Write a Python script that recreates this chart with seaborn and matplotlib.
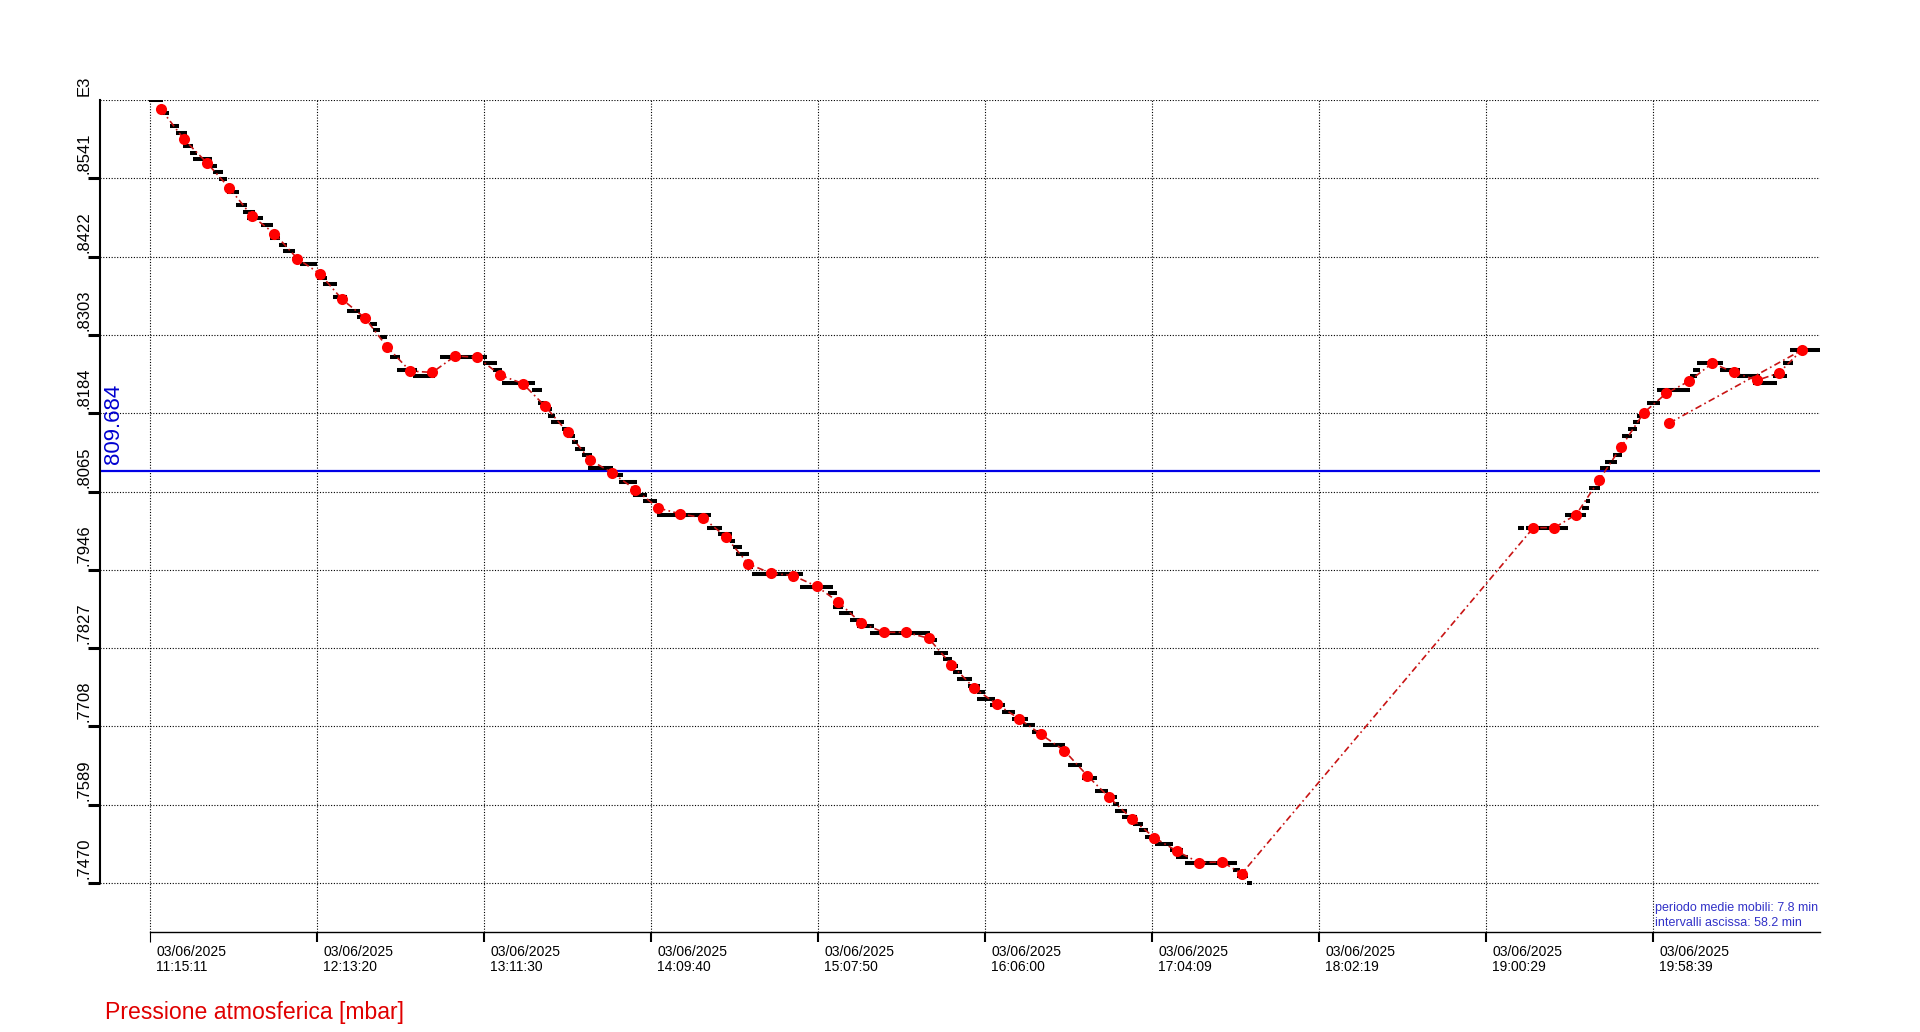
import matplotlib
matplotlib.use('Agg')
import matplotlib.pyplot as plt
import matplotlib.transforms as mtransforms
import seaborn as sns

# ---------------- data ----------------
# raw readings: horizontal dashes (minutes since 11:15:11, value in mbar)
raw_start = [-0.2, 3.7, 7.0, 9.1, 11.6, 13.9, 15.1, 20.3, 22.0, 24.1,
             26.9, 29.9, 32.5, 33.7, 38.5, 41.8, 45.0, 46.4, 52.2, 58.0,
             60.1, 63.8, 68.5, 72.0, 76.6, 77.8, 80.1, 83.6, 86.1, 91.7,
             101.0, 116.1, 119.5, 122.5, 132.9, 135.2, 137.9, 138.7, 139.6, 143.4,
             145.1, 146.8, 148.0, 150.3, 152.6, 160.2, 163.4, 168.3, 171.8, 176.4,
             193.8, 197.9, 201.9, 203.1, 204.0, 207.8, 209.5, 226.2, 236.2, 237.9,
             240.0, 243.7, 246.1, 250.7, 270.4, 273.0, 276.2, 278.0, 279.7, 280.9,
             284.9, 287.8, 288.1, 292.5, 296.6, 300.0, 304.1, 307.0, 311.0, 319.7,
             324.4, 329.0, 333.1, 335.4, 336.0, 338.3, 342.4, 344.5, 346.5, 349.9,
             355.2, 357.2, 360.4, 377.2, 378.4, 381.9,
             476.4, 479.1, 492.7, 498.5, 500.0, 501.1, 504.9, 506.6, 509.5, 512.4,
             514.7, 516.5, 517.6, 521.1, 524.6, 536.2, 537.4, 538.5, 546.7, 552.5,
             558.3, 565.2, 568.7, 571.0]
raw_end = [4.4, 6.7, 10.2, 12.8, 15.1, 16.3, 21.5, 23.2, 25.3, 26.7,
           31.1, 33.7, 36.6, 39.2, 42.7, 45.3, 47.6, 50.5, 58.0, 61.5,
           65.0, 68.5, 73.1, 76.6, 78.9, 80.1, 82.4, 87.0, 92.9, 99.2,
           117.2, 120.7, 122.5, 134.1, 136.4, 137.5, 139.9, 141.0, 144.3, 145.6,
           148.0, 149.1, 151.5, 153.8, 161.1, 164.6, 169.5, 172.9, 176.4, 195.2,
           199.1, 202.5, 203.7, 206.0, 208.7, 210.1, 227.5, 237.9, 239.1, 241.4,
           244.7, 247.2, 252.1, 271.6, 274.1, 278.0, 279.1, 281.4, 282.6, 286.1,
           289.0, 290.7, 294.2, 297.7, 301.2, 305.8, 308.1, 311.0, 318.6, 324.4,
           329.6, 333.7, 336.6, 337.5, 340.1, 343.6, 345.9, 347.6, 351.1, 356.3,
           359.8, 361.5, 378.4, 379.5, 382.4, 383.6,
           478.4, 493.8, 500.0, 501.1, 501.4, 504.9, 508.4, 510.7, 512.4, 515.9,
           517.6, 518.8, 521.7, 525.8, 536.2, 538.5, 539.7, 547.6, 553.6, 560.6,
           566.4, 569.9, 572.2, 582.4]
raw_value = [866, 864, 862, 861, 859, 858, 857, 856, 855, 854,
             852, 850, 849, 848, 847, 845, 844, 843, 841, 839,
             838, 836, 834, 833, 832, 831, 830, 827, 825, 824,
             827, 826, 825, 823, 822, 820, 819, 818, 817, 816,
             815, 814, 813, 812, 810, 809, 808, 806, 805, 803,
             801, 800, 799, 798, 797, 795, 794, 792, 791, 789,
             788, 787, 786, 785, 784, 782, 781, 780, 779, 778,
             777, 776, 775, 774, 773, 772, 771, 770, 768, 765,
             763, 761, 760, 759, 758, 757, 756, 755, 754, 753,
             752, 751, 750, 749, 748, 747,
             801, 801, 803, 804, 805, 807, 810, 811, 812, 815,
             816, 817, 818, 820, 822, 824, 825, 826, 825, 824,
             823, 824, 826, 828]

# moving averages (red points)
ma_time = [3.8, 11.9, 19.7, 27.5, 35.4, 43.3, 51.3, 59.1, 66.9, 74.8,
           82.5, 90.6, 98.3, 106.3, 114.0, 121.9, 129.8, 137.5, 145.4, 153.2,
           161.0, 169.0, 176.9, 184.6, 192.6, 200.5, 208.3, 216.1, 224.0, 232.1,
           239.7, 247.6, 255.5, 263.2, 271.1, 279.0, 287.0, 294.8, 302.5, 310.2,
           318.4, 326.4, 334.0, 342.0, 349.7, 357.7, 365.3, 373.4, 380.1,
           481.7, 489.0, 496.6, 504.5, 512.3, 520.2, 527.9, 536.0, 544.0, 551.6,
           559.6, 567.1, 575.2, 529.0]
ma_value = [864.6, 860.0, 856.5, 852.7, 848.4, 845.7, 841.9, 839.6, 835.7, 832.9,
            828.5, 824.8, 824.6, 827.1, 826.9, 824.2, 822.9, 819.5, 815.5, 811.3,
            809.3, 806.8, 804.0, 803.1, 802.5, 799.6, 795.5, 794.1, 793.7, 792.1,
            789.7, 786.5, 785.1, 785.1, 784.2, 780.2, 776.6, 774.2, 772.0, 769.6,
            767.1, 763.3, 760.0, 756.7, 753.9, 751.8, 750.1, 750.2, 748.4,
            801.0, 801.0, 803.0, 808.2, 813.3, 818.5, 821.4, 823.3, 826.0, 824.6,
            823.4, 824.5, 828.0, 816.9]

mean_value = 809.684
mean_label = "809.684"

y_ticks = [747.0, 758.9, 770.8, 782.7, 794.6, 806.5, 818.4, 830.3, 842.2, 854.1, 866.0]
y_tick_labels = [".7470", ".7589", ".7708", ".7827", ".7946", ".8065",
                 ".8184", ".8303", ".8422", ".8541", "E3"]

x_dates = ["03/06/2025"] * 10
x_times = ["11:15:11", "12:13:20", "13:11:30", "14:09:40", "15:07:50",
           "16:06:00", "17:04:09", "18:02:19", "19:00:29", "19:58:39"]

title_text = "Pressione atmosferica [mbar]"
info_lines = ["periodo medie mobili: 7.8 min", "intervalli ascissa: 58.2 min"]

# ---------------- style ----------------
sns.set_theme(style='white')
plt.rcParams['font.family'] = ['Liberation Sans', 'DejaVu Sans']


def to_min(s):
    h, m, sec = (int(p) for p in s.split(':'))
    return h * 60 + m + sec / 60.0


t0 = to_min(x_times[0])
x_ticks = [to_min(s) - t0 for s in x_times]

fig = plt.figure(figsize=(19.2, 10.32), dpi=100)
ax = fig.add_axes([100 / 1920, 100 / 1032, 1720 / 1920, 832 / 1032])
ax.set_facecolor('white')

# raw dashes
ax.hlines(raw_value, raw_start, raw_end, colors='black', linewidth=2.9, zorder=3)

# moving average line + points
sns.lineplot(x=ma_time, y=ma_value, sort=False, estimator=None, ax=ax,
             color='#c81414', linewidth=1.2, zorder=4)
ax.lines[-1].set_linestyle((0, (4, 2, 1, 2)))
sns.scatterplot(x=ma_time, y=ma_value, ax=ax, color='#ff0000', s=64,
                linewidth=0, zorder=5)

# mean line
ax.axhline(mean_value, color='#0000e6', linewidth=1.6, zorder=2)

# limits
ax.set_xlim(-17.41, 581.48)
ax.set_ylim(866.0 - 832 * (11.9 / 78.3), 866.0)

# ticks
ax.set_xticks(x_ticks)
ax.tick_params(axis='x', direction='out', length=7.2, width=1.5, colors='black',
               labelbottom=False, bottom=True)
ax.set_yticks(y_ticks)
ax.tick_params(axis='y', direction='out', length=8.6, width=2.2, colors='black',
               labelleft=False, left=True)
ax.yaxis.get_major_ticks()[-1].tick1line.set_visible(False)
ax.xaxis.get_major_ticks()[0].tick1line.set_markeredgewidth(0.8)

# y labels (rotated, reading upwards, ending just above each tick)
trans_y = ax.get_yaxis_transform() + mtransforms.ScaledTranslation(-8 / 100, 4 / 100, fig.dpi_scale_trans)
for v, lab in zip(y_ticks, y_tick_labels):
    ax.text(0, v, lab, transform=trans_y, rotation=90, ha='right', va='bottom',
            fontsize=12, color='black')

# grid
ax.grid(True, color='black', linestyle=(0, (1, 1.5)), linewidth=0.8)
ax.set_axisbelow(True)

# spines
for s in ['top', 'right']:
    ax.spines[s].set_visible(False)
ax.spines['left'].set_bounds(747.0, 866.0)
ax.spines['left'].set_linewidth(1.5)
ax.spines['left'].set_color('black')
ax.spines['bottom'].set_bounds(0, 581.48)
ax.spines['bottom'].set_linewidth(1.0)
ax.spines['bottom'].set_color('black')

# date labels under the x axis
trans = ax.get_xaxis_transform() + mtransforms.ScaledTranslation(6 / 100, -13 / 100, fig.dpi_scale_trans)
for t, d, h in zip(x_ticks, x_dates, x_times):
    ax.text(t, 0, d + "\n" + h, transform=trans, ha='left', va='top',
            fontsize=10, linespacing=1.05, color='black')

# mean label
trans_b = ax.get_yaxis_transform() + mtransforms.ScaledTranslation(3 / 100, 7 / 100, fig.dpi_scale_trans)
ax.text(0, mean_value, mean_label, transform=trans_b, rotation=90, ha='left',
        va='bottom', fontsize=16, color='#0000d0')

# texts
fig.text(105 / 1920, 1 - 1013 / 1032, title_text, fontsize=16.6, color='#e00000',
         ha='left', va='center')
fig.text(1655 / 1920, 1 - 910.7 / 1032, info_lines[0], fontsize=9, color='#3232c8',
         ha='left', va='baseline')
fig.text(1655 / 1920, 1 - 925.7 / 1032, info_lines[1], fontsize=9, color='#3232c8',
         ha='left', va='baseline')

fig.savefig('out.png', dpi=100)
